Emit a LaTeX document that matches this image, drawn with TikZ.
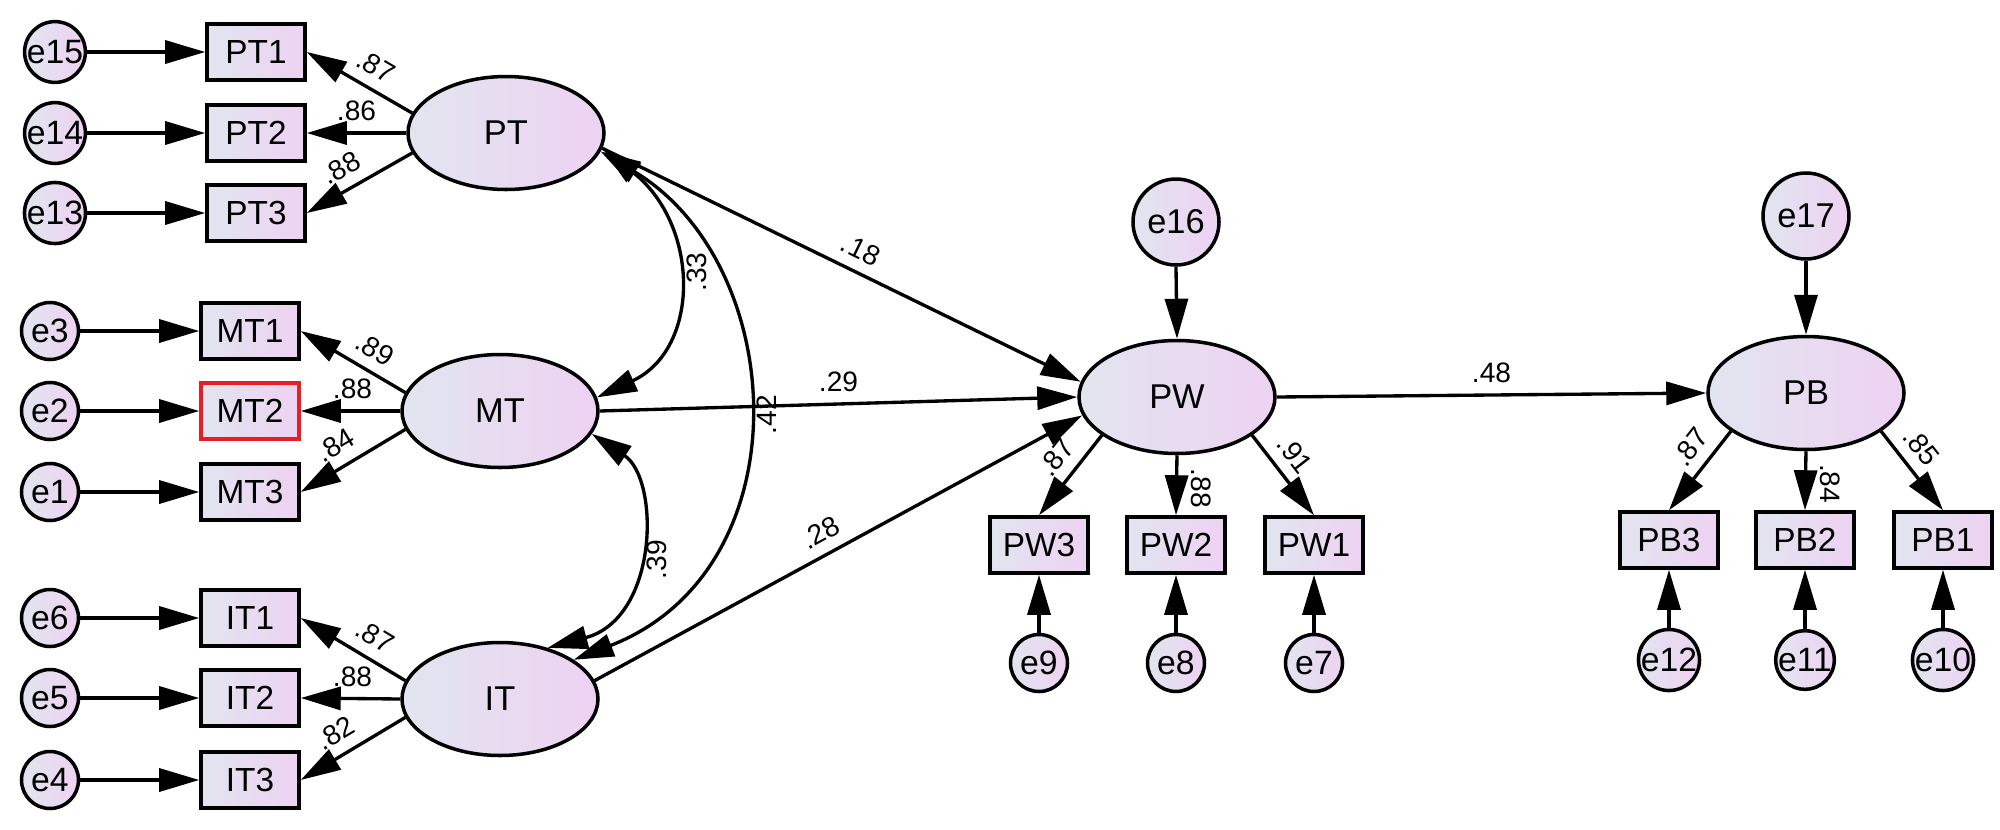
\documentclass[tikz,border=0pt]{standalone}
\usepackage{fontspec}
\setmainfont{Liberation Sans}
\usetikzlibrary{arrows.meta,shapes.geometric}
\definecolor{fillL}{RGB}{225,229,239}
\definecolor{fillR}{RGB}{238,210,242}
\definecolor{redbd}{RGB}{232,30,36}
\begin{document}
\begin{tikzpicture}[x=0.1mm,y=-0.1mm,
  >={Triangle[length=4mm,width=2.3mm]},
  base/.style={draw=black, line width=1pt, left color=fillL, right color=fillR, inner sep=0pt},
  lat/.style={base, ellipse, minimum width=19.6mm, minimum height=11.3mm, font=\fontsize{9.8}{11}\selectfont},
  obs/.style={base, rectangle, minimum width=9.8mm, minimum height=5.6mm, font=\fontsize{9.5}{11}\selectfont},
  err/.style={base, circle, minimum size=5.7mm, font=\fontsize{9.6}{11}\selectfont},
  bigerr/.style={base, circle, minimum size=8.6mm, font=\fontsize{9.8}{11}\selectfont},
  conn/.style={line width=0.95pt},
  lab/.style={font=\fontsize{8}{9}\selectfont, inner sep=3pt},
  clab/.style={font=\fontsize{8}{9}\selectfont, inner sep=3pt, rotate=90, anchor=north},
  vlab/.style={font=\fontsize{8}{9}\selectfont, inner sep=3.6pt, rotate=-90, anchor=south},
]
\useasboundingbox (0,0) rectangle (2000,830);

% ---------- PT block ----------
\node[err] (e15) at (55,52) {e15};
\node[err] (e14) at (55,133) {e14};
\node[err] (e13) at (55,213) {e13};
\node[obs] (PT1) at (256,52) {PT1};
\node[obs] (PT2) at (256,133) {PT2};
\node[obs] (PT3) at (256,213) {PT3};
\node[lat] (PT) at (506,133) {PT};

% ---------- MT block ----------
\node[err] (e3) at (50,331) {e3};
\node[err] (e2) at (50,411) {e2};
\node[err] (e1) at (50,492) {e1};
\node[obs] (MT1) at (250,331) {MT1};
\node[obs, draw=redbd] (MT2) at (250,411) {MT2};
\node[obs] (MT3) at (250,492) {MT3};
\node[lat] (MT) at (500,411) {MT};

% ---------- IT block ----------
\node[err] (e6) at (50,618) {e6};
\node[err] (e5) at (50,698) {e5};
\node[err] (e4) at (50,780) {e4};
\node[obs] (IT1) at (250,618) {IT1};
\node[obs] (IT2) at (250,698) {IT2};
\node[obs] (IT3) at (250,780) {IT3};
\node[lat] (IT) at (500,699) {IT};

% ---------- PW block ----------
\node[bigerr] (e16) at (1176,222) {e16};
\node[lat] (PW) at (1177,397) {PW};
\node[obs] (PW3) at (1039,545) {PW3};
\node[obs] (PW2) at (1176,545) {PW2};
\node[obs] (PW1) at (1314,545) {PW1};
\node[err] (e9) at (1039,663) {e9};
\node[err] (e8) at (1176,663) {e8};
\node[err] (e7) at (1314,663) {e7};

% ---------- PB block ----------
\node[bigerr] (e17) at (1806,216) {e17};
\node[lat] (PB) at (1806,393) {PB};
\node[obs] (PB3) at (1669,540) {PB3};
\node[obs] (PB2) at (1805,540) {PB2};
\node[obs] (PB1) at (1943,540) {PB1};
\node[err] (e12) at (1669,660) {e12};
\node[err] (e11) at (1805,660) {e11};
\node[err] (e10) at (1943,660) {e10};

% ---------- error -> indicator ----------
\foreach \e/\b in {e15/PT1,e14/PT2,e13/PT3,e3/MT1,e2/MT2,e1/MT3,e6/IT1,e5/IT2,e4/IT3}
  \draw[conn,->] (\e.east) -- (\b.west);
\foreach \e/\b in {e9/PW3,e8/PW2,e7/PW1,e12/PB3,e11/PB2,e10/PB1}
  \draw[conn,->] (\e.north) -- (\b.south);

% ---------- loadings, left ----------
\draw[conn,->] (PT.168) -- (PT1.east) node[lab, sloped, above, pos=0.45] {.87};
\draw[conn,->] (PT.west) -- (PT2.east) node[lab, above, pos=0.5] {.86};
\draw[conn,->] (PT.192) -- (PT3.east) node[lab, sloped, above, pos=0.57] {.88};

\draw[conn,->] (MT.169) -- (MT1.east) node[lab, sloped, above, pos=0.4] {.89};
\draw[conn,->] (MT.west) -- (MT2.east) node[lab, above, pos=0.48] {.88};
\draw[conn,->] (MT.191) -- (MT3.east) node[lab, sloped, above, pos=0.56] {.84};

\draw[conn,->] (IT.169) -- (IT1.east) node[lab, sloped, above, pos=0.4] {.87};
\draw[conn,->] (IT.west) -- (IT2.east) node[lab, above, pos=0.48] {.88};
\draw[conn,->] (IT.191) -- (IT3.east) node[lab, sloped, above, pos=0.56] {.82};

% ---------- loadings, right ----------
\draw[conn,->] (e16.south) -- (PW.north);
\draw[conn,->] (PW.207) -- (PW3.north) node[lab, sloped, above, pos=0.45] {.87};
\draw[conn,->] (PW.south) -- (PW2.north) node[vlab, pos=0.55] {.88};
\draw[conn,->] (PW.-27) -- (PW1.north) node[lab, sloped, above, pos=0.41] {.91};

\draw[conn,->] (e17.south) -- (PB.north);
\draw[conn,->] (PB.207) -- (PB3.north) node[lab, sloped, above, pos=0.37] {.87};
\draw[conn,->] (PB.south) -- (PB2.north) node[vlab, pos=0.55] {.84};
\draw[conn,->] (PB.-27) -- (PB1.north) node[lab, sloped, above, pos=0.37] {.85};

% ---------- structural paths ----------
\draw[conn,->] (PT.-9) -- (PW.171) node[lab, sloped, above, pos=0.52] {.18};
\draw[conn,->] (MT.east) -- (PW.west) node[lab, above, pos=0.5] {.29};
\draw[conn,->] (IT.11) -- (PW.191) node[lab, sloped, above, pos=0.485] {.28};
\draw[conn,->] (PW.east) -- (PB.west) node[lab, above, pos=0.5] {.48};

% ---------- covariances ----------
\draw[conn,<->] (PT.-9) .. controls (700,225) and (701,349) .. (MT.8) node[clab, pos=0.46] {.33};
\draw[conn,<->] (PT.-11) .. controls (790,265) and (805,570) .. (IT.28) node[clab, pos=0.5] {.42};
\draw[conn,<->] (MT.-14) .. controls (660,479) and (659,618) .. (IT.47) node[clab, pos=0.55] {.39};
\end{tikzpicture}
\end{document}
